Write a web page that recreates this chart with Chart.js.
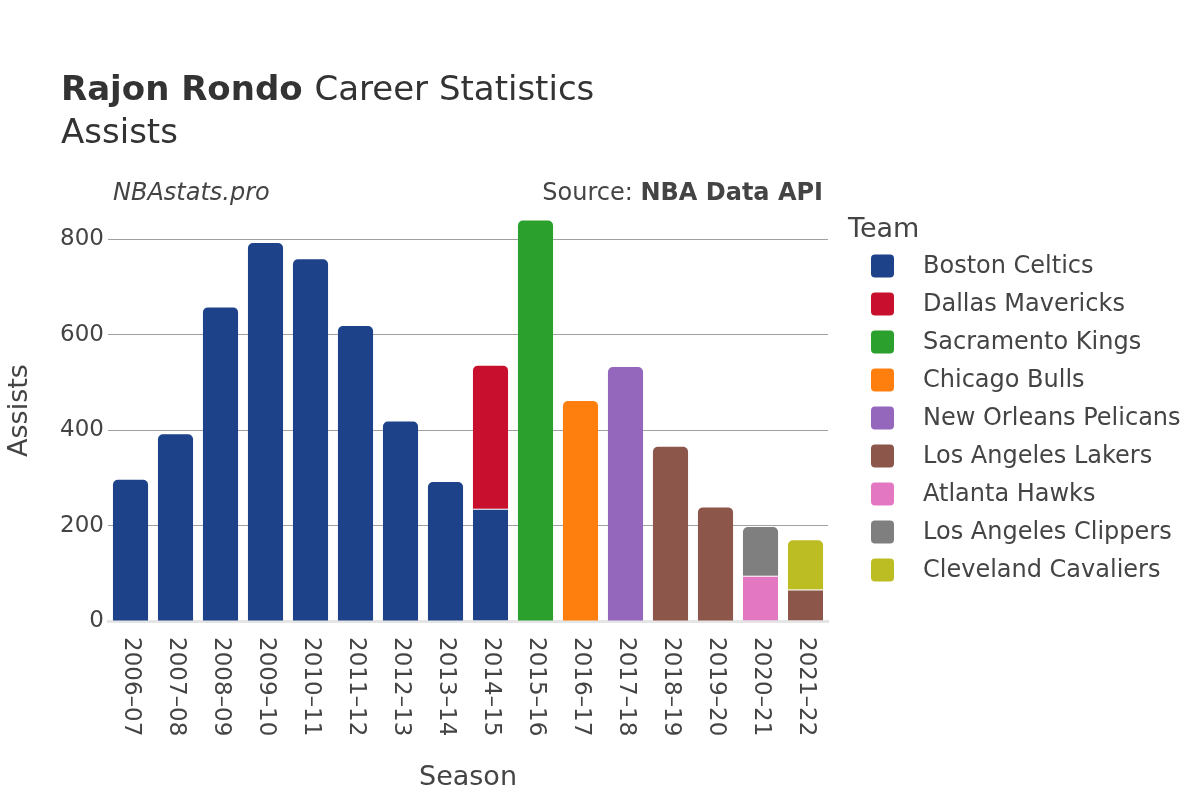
<!DOCTYPE html>
<html>
<head>
<meta charset="utf-8">
<script src="https://cdn.jsdelivr.net/npm/chart.js@4"></script>
<style>
  body { margin: 0; background: #fff; }
  #wrap { width: 1200px; height: 800px; position: relative; }
</style>
</head>
<body>
<div id="wrap"><canvas id="assistsPlot"></canvas></div>
<script>
// Data
var seasons = ['2006–07', '2007–08', '2008–09', '2009–10', '2010–11', '2011–12', '2012–13', '2013–14',
               '2014–15', '2015–16', '2016–17', '2017–18', '2018–19', '2019–20', '2020–21', '2021–22'];
var teams = ['Boston Celtics', 'Dallas Mavericks', 'Sacramento Kings', 'Chicago Bulls', 'New Orleans Pelicans',
             'Los Angeles Lakers', 'Atlanta Hawks', 'Los Angeles Clippers', 'Cleveland Cavaliers'];
var teamColors = ['#1d428a', '#c8102e', '#2ca02c', '#ff7f0e', '#9467bd', '#8c564b', '#e377c2', '#7f7f7f', '#bcbd22'];

var celtics   = [296, 391, 657, 792, 758, 618, 418, 291, 235, null, null, null, null, null, null, null];
var mavericks = [null, null, null, null, null, null, null, null, 300, null, null, null, null, null, null, null];
var kings     = [null, null, null, null, null, null, null, null, null, 839, null, null, null, null, null, null];
var bulls     = [null, null, null, null, null, null, null, null, null, null, 461, null, null, null, null, null];
var pelicans  = [null, null, null, null, null, null, null, null, null, null, null, 532, null, null, null, null];
var lakers    = [null, null, null, null, null, null, null, null, null, null, null, null, 365, 238, null, 66];
var hawks     = [null, null, null, null, null, null, null, null, null, null, null, null, null, null, 95, null];
var clippers  = [null, null, null, null, null, null, null, null, null, null, null, null, null, null, 102, null];
var cavaliers = [null, null, null, null, null, null, null, null, null, null, null, null, null, null, null, 103];

var yTicks = [0, 200, 400, 600, 800];

var series = [celtics, mavericks, kings, bulls, pelicans, lakers, hawks, clippers, cavaliers];
var FONT = '"DejaVu Sans", sans-serif';
var TEXT = '#444';

function isTopOfStack(ds, idx)
{
    for (var k = ds + 1; k < series.length; k++) {
        if (series[k][idx] != null)
            return false;
    }
    return true;
}

var datasets = [];
for (var i = 0; i < teams.length; i++) {
    datasets.push({
        label: teams[i],
        data: series[i],
        backgroundColor: teamColors[i],
        borderColor: '#ffffff',
        borderWidth: function(ctx) {
            return isTopOfStack(ctx.datasetIndex, ctx.dataIndex) ? 0 : {top: 1, left: 0, right: 0, bottom: 0};
        },
        borderSkipped: 'start',
        borderRadius: function(ctx) {
            if (isTopOfStack(ctx.datasetIndex, ctx.dataIndex))
                return {topLeft: 5, topRight: 5, bottomLeft: 0, bottomRight: 0};
            return 0;
        },
        categoryPercentage: 1.0,
        barPercentage: 0.78
    });
}

// Titles, rotated season labels and legend
var decorations = {
    id: 'decorations',
    afterDraw: function(chart) {
        var c = chart.ctx;
        c.save();
        c.textBaseline = 'alphabetic';
        c.textAlign = 'left';

        // main title
        c.fillStyle = '#333';
        c.font = 'bold 34px ' + FONT;
        c.fillText('Rajon Rondo', 61, 100);
        var w = c.measureText('Rajon Rondo ').width;
        c.font = '34px ' + FONT;
        c.fillText('Career Statistics', 61 + w, 100);
        c.fillText('Assists', 61, 143);

        // credits
        c.fillStyle = TEXT;
        c.font = 'italic 24px ' + FONT;
        c.fillText('NBAstats.pro', 113, 200);
        c.textAlign = 'right';
        c.font = 'bold 24px ' + FONT;
        c.fillText('NBA Data API', 823, 200);
        var bw = c.measureText('NBA Data API').width;
        c.font = '24px ' + FONT;
        c.fillText('Source: ', 823 - bw, 200);

        // season labels, reading downwards
        var xs = chart.scales.x;
        c.font = '23px ' + FONT;
        c.fillStyle = TEXT;
        c.textAlign = 'left';
        c.textBaseline = 'middle';
        for (var t = 0; t < seasons.length; t++) {
            var px = xs.getPixelForTick(t);
            c.save();
            c.translate(px, xs.top + 16);
            c.rotate(Math.PI / 2);
            c.fillText(seasons[t], 0, 0);
            c.restore();
        }

        // legend
        c.fillStyle = TEXT;
        c.font = '27px ' + FONT;
        c.textBaseline = 'alphabetic';
        c.fillText('Team', 848, 237);
        c.font = '24px ' + FONT;
        c.textBaseline = 'middle';
        for (var j = 0; j < teams.length; j++) {
            var y = 266 + j * 38;
            c.fillStyle = teamColors[j];
            c.beginPath();
            c.roundRect(871, y - 11.5, 23, 23, 4);
            c.fill();
            c.fillStyle = TEXT;
            c.fillText(teams[j], 923, y + 1);
        }
        c.restore();
    }
};

new Chart(document.getElementById('assistsPlot'), {
    type: 'bar',
    data: {
        labels: seasons,
        datasets: datasets
    },
    plugins: [decorations],
    options: {
        responsive: true,
        maintainAspectRatio: false,
        animation: false,
        layout: {
            padding: {left: 0, top: 200, right: 372, bottom: 0}
        },
        plugins: {
            legend: {display: false},
            tooltip: {enabled: false}
        },
        scales: {
            x: {
                stacked: true,
                grid: {display: false},
                border: {display: true, color: '#e5e5e5', width: 3},
                ticks: {display: false},
                title: {
                    display: true,
                    text: 'Season',
                    color: TEXT,
                    font: {family: FONT, size: 27},
                    padding: {top: 0, bottom: 6}
                },
                afterFit: function(scale) { scale.height = 179; }
            },
            y: {
                stacked: true,
                min: 0,
                max: 882,
                grid: {color: '#a0a0a0', lineWidth: 1, drawTicks: false},
                border: {display: false},
                ticks: {
                    stepSize: 200,
                    color: TEXT,
                    font: {family: FONT, size: 23},
                    padding: 4
                },
                afterBuildTicks: function(scale) {
                    scale.ticks = yTicks.map(function(v) { return {value: v}; });
                },
                title: {
                    display: true,
                    text: 'Assists',
                    color: TEXT,
                    font: {family: FONT, size: 27},
                    padding: {top: 4, bottom: 0}
                },
                afterFit: function(scale) { scale.width = 108; }
            }
        }
    }
});
</script>
</body>
</html>
